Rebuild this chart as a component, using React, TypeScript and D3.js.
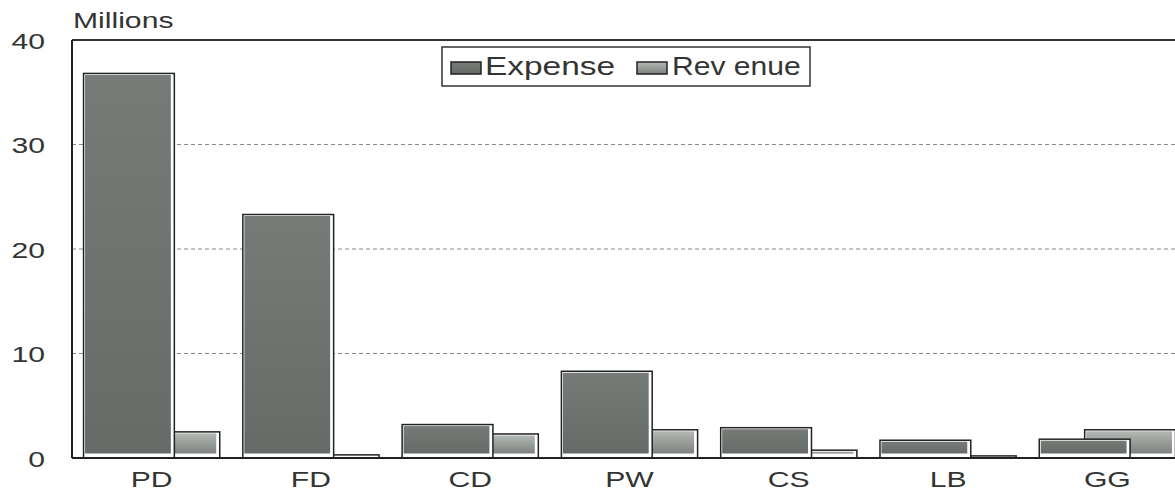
import React from "react";
import * as d3 from "d3";

const categories = ["PD", "FD", "CD", "PW", "CS", "LB", "GG"];
const expense = [36.8, 23.3, 3.2, 8.3, 2.9, 1.7, 1.8];
const revenue = [2.5, 0.3, 2.3, 2.7, 0.75, 0.2, 2.7];
const yTicks = [0, 10, 20, 30, 40];
const seriesNames = ["Expense", "Rev enue"];

const W = 1175;
const H = 493;
const m = { left: 72, top: 40, right: -12, bottom: 35 };
const SX = 1.37;

export default function App() {
  const x = d3
    .scaleBand<string>()
    .domain(categories)
    .range([m.left, W - m.right])
    .paddingInner(0)
    .paddingOuter(0);
  const y = d3.scaleLinear().domain([0, 40]).range([H - m.bottom, m.top]);
  const bw = x.bandwidth();
  const barW = bw * 0.57;
  const off = barW * 0.5;
  const start = (bw - (barW + off)) / 2;
  const font = "Liberation Sans, Arial, sans-serif";

  const T = (props: {
    x: number;
    y: number;
    size: number;
    anchor?: string;
    len?: number;
    children: React.ReactNode;
  }) => (
    <text
      transform={`translate(${props.x},${props.y}) scale(${SX},1)`}
      textAnchor={props.anchor || "start"}
      fontFamily={font}
      fontSize={props.size}
      fill="#333534"
      {...(props.len ? { textLength: props.len, lengthAdjust: "spacingAndGlyphs" } : {})}
    >
      {props.children}
    </text>
  );

  const bar = (xx: number, v: number, fill: string, key: string) => {
    const top = y(v);
    const h = y(0) - top;
    return (
      <g key={key}>
        <rect x={xx} y={top} width={barW} height={h} fill="#fff" stroke="#222" strokeWidth={1.5} />
        <rect
          x={xx + 1.5}
          y={top + 1.5}
          width={Math.max(0, barW - 5)}
          height={Math.max(0, h - 6)}
          fill={fill}
        />
      </g>
    );
  };

  return (
    <svg width={W} height={H} style={{ position: "absolute", left: 0, top: 0, background: "#fff" }}>
      <defs>
        <linearGradient id="gExp" x1="0" y1="0" x2="0" y2="1">
          <stop offset="0" stopColor="#767b78" />
          <stop offset="1" stopColor="#666b68" />
        </linearGradient>
        <linearGradient id="gRev" x1="0" y1="0" x2="0" y2="1">
          <stop offset="0" stopColor="#b4b8b5" />
          <stop offset="1" stopColor="#7d827f" />
        </linearGradient>
      </defs>
      <T x={m.left + 1} y={28} size={22}>
        Millions
      </T>
      {yTicks.map((t) => (
        <g key={t}>
          {t > 0 && t < 40 && (
            <line
              x1={m.left}
              x2={W}
              y1={y(t)}
              y2={y(t)}
              stroke="#888"
              strokeWidth={1}
              strokeDasharray="4,3"
            />
          )}
          <T x={45} y={y(t) + 8.5} size={22} anchor="end">
            {t}
          </T>
        </g>
      ))}
      <line x1={m.left} x2={W} y1={m.top} y2={m.top} stroke="#333" strokeWidth={2} />
      <line x1={m.left} x2={m.left} y1={m.top} y2={y(0)} stroke="#222" strokeWidth={2} />
      {categories.map((c, i) => {
        const bx = (x(c) as number) + start;
        return (
          <g key={c}>
            {bar(bx + off, revenue[i], "url(#gRev)", c + "r")}
            {bar(bx, expense[i], "url(#gExp)", c + "e")}
            <T x={(x(c) as number) + bw / 2} y={487} size={22} anchor="middle">
              {c}
            </T>
          </g>
        );
      })}
      <line x1={m.left} x2={W} y1={y(0)} y2={y(0)} stroke="#222" strokeWidth={2} />
      <g>
        <rect x={442} y={47} width={368} height={39} fill="#fff" stroke="#333" strokeWidth={1.5} />
        <rect x={451} y={62} width={30} height={12} fill="url(#gExp)" stroke="#222" strokeWidth={1.5} />
        <T x={485} y={75} size={25} len={95}>
          {seriesNames[0]}
        </T>
        <rect x={637} y={62} width={30} height={12} fill="url(#gRev)" stroke="#222" strokeWidth={1.5} />
        <T x={672} y={75} size={25} len={94}>
          {seriesNames[1]}
        </T>
      </g>
    </svg>
  );
}
